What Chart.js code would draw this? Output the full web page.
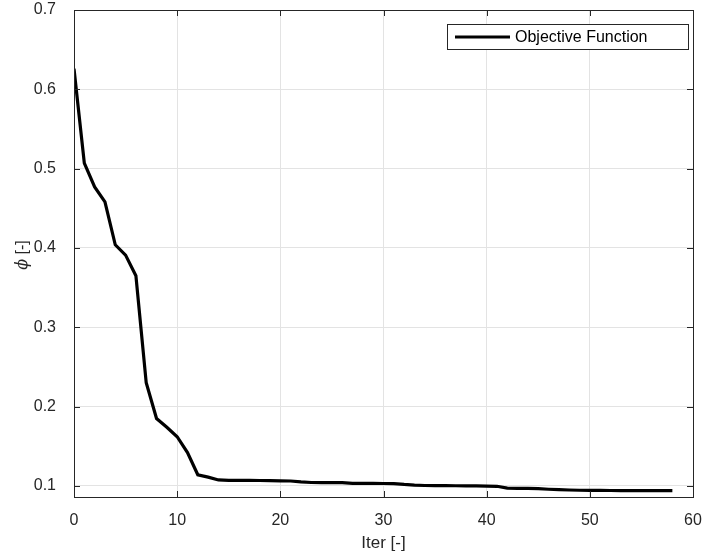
<!DOCTYPE html>
<html>
<head>
<meta charset="utf-8">
<script src="https://cdn.jsdelivr.net/npm/chart.js@4.4.0/dist/chart.umd.min.js"></script>
<style>
  html, body { margin: 0; padding: 0; background: #fff; }
  #wrap { width: 703px; height: 558px; }
</style>
</head>
<body>
<div id="wrap"><canvas id="objChart" width="703" height="558"></canvas></div>
<script>
// Iterations and objective values
const iterations = [
  0, 1, 2, 3, 4, 5, 6, 7, 8, 9, 10, 11, 12, 13, 14, 15, 16, 17, 18, 19,
  20, 21, 22, 23, 24, 25, 26, 27, 28, 29, 30, 31, 32, 33, 34, 35, 36, 37, 38, 39,
  40, 41, 42, 43, 44, 45, 46, 47, 48, 49, 50, 51, 52, 53, 54, 55, 56, 57, 58
];
const objective = [
  0.626, 0.507, 0.477, 0.458, 0.404, 0.391, 0.365, 0.230, 0.185, 0.174,
  0.162, 0.142, 0.114, 0.111, 0.1075, 0.107, 0.107, 0.107, 0.1068, 0.1066,
  0.1064, 0.1062, 0.105, 0.1043, 0.1042, 0.1041, 0.104, 0.1033, 0.1032, 0.1031,
  0.1030, 0.1029, 0.1018, 0.1010, 0.1005, 0.1004, 0.1003, 0.1002, 0.1001, 0.1000,
  0.0998, 0.0995, 0.0972, 0.0970, 0.0968, 0.0965, 0.0958, 0.0952, 0.0948, 0.0945,
  0.0944, 0.0943, 0.0942, 0.0941, 0.0941, 0.094, 0.094, 0.094, 0.094
];
const xTicks = [0, 10, 20, 30, 40, 50, 60];
const yTicks = [0.1, 0.2, 0.3, 0.4, 0.5, 0.6, 0.7];
const seriesLabel = "Objective Function";

const FONT = "'Liberation Sans', Arial, Helvetica, sans-serif";
const AXIS_COLOR = "#262626";

// box, inward ticks, y title and legend in MATLAB style
const matlabDecor = {
  id: "matlabDecor",
  afterDraw(chart) {
    const { ctx, chartArea: a, scales } = chart;
    ctx.save();
    ctx.strokeStyle = AXIS_COLOR;
    ctx.lineWidth = 1;
    ctx.strokeRect(Math.round(a.left) + 0.5, Math.round(a.top) + 0.5,
      Math.round(a.right - a.left), Math.round(a.bottom - a.top));
    ctx.beginPath();
    xTicks.forEach(v => {
      const x = Math.round(scales.x.getPixelForValue(v)) + 0.5;
      ctx.moveTo(x, a.bottom); ctx.lineTo(x, a.bottom - 6);
      ctx.moveTo(x, a.top); ctx.lineTo(x, a.top + 6);
    });
    yTicks.forEach(v => {
      const y = Math.round(scales.y.getPixelForValue(v)) + 0.5;
      ctx.moveTo(a.left, y); ctx.lineTo(a.left + 6, y);
      ctx.moveTo(a.right, y); ctx.lineTo(a.right - 6, y);
    });
    ctx.stroke();

    // y axis title: italic phi + " [-]"
    ctx.translate(23, 255);
    ctx.rotate(-Math.PI / 2);
    ctx.fillStyle = AXIS_COLOR;
    ctx.textBaseline = "middle";
    ctx.font = "italic 16px 'DejaVu Serif', serif";
    const phi = "\u03D5";
    const rest = " [-]";
    const wPhi = ctx.measureText(phi).width;
    ctx.font = "16px " + FONT;
    const wRest = ctx.measureText(rest).width;
    let x0 = -(wPhi + wRest) / 2;
    ctx.font = "italic 16px 'DejaVu Serif', serif";
    ctx.textAlign = "left";
    ctx.fillText(phi, x0, 0);
    ctx.font = "16px " + FONT;
    ctx.fillText(rest, x0 + wPhi, 0);
    ctx.setTransform(1, 0, 0, 1, 0, 0);

    // legend box
    const lx = 447, ly = 24, lw = 241, lh = 25;
    ctx.fillStyle = "#fff";
    ctx.fillRect(lx, ly, lw, lh);
    ctx.strokeStyle = AXIS_COLOR;
    ctx.strokeRect(lx + 0.5, ly + 0.5, lw, lh);
    ctx.strokeStyle = "#000";
    ctx.lineWidth = 3;
    ctx.beginPath();
    ctx.moveTo(455, ly + lh / 2 + 0.5);
    ctx.lineTo(510, ly + lh / 2 + 0.5);
    ctx.stroke();
    ctx.fillStyle = "#000";
    ctx.font = "16px " + FONT;
    ctx.textAlign = "left";
    ctx.textBaseline = "middle";
    ctx.fillText(seriesLabel, 515, ly + lh / 2 + 1);
    ctx.restore();
  }
};

const ctx = document.getElementById("objChart");
const objChart = new Chart(ctx, {
  type: "line",
  data: {
    datasets: [
      {
        label: seriesLabel,
        data: iterations.map((it, i) => ({ x: it, y: objective[i] })),
        borderColor: "#000",
        backgroundColor: "#000",
        borderWidth: 3.2,
        pointRadius: 0,
        tension: 0,
      },
    ],
  },
  options: {
    responsive: false,
    animation: false,
    layout: { padding: { top: 10, right: 10, left: 0, bottom: 0 } },
    plugins: {
      legend: { display: false },
      tooltip: { enabled: false },
    },
    scales: {
      x: {
        type: "linear",
        min: 0,
        max: 60,
        afterBuildTicks: (s) => { s.ticks = xTicks.map(v => ({ value: v })); },
        afterFit: (s) => { s.height = 61; s.paddingLeft = 0; s.paddingRight = 0; },
        grid: { color: "#e3e3e3", drawTicks: false },
        border: { display: false },
        ticks: { color: AXIS_COLOR, font: { family: FONT, size: 16 }, padding: 14, maxRotation: 0 },
        title: { display: true, text: "Iter [-]", color: AXIS_COLOR, font: { family: FONT, size: 17 }, padding: { top: 4 } },
      },
      y: {
        min: 0.086,
        max: 0.7,
        afterBuildTicks: (s) => { s.ticks = yTicks.map(v => ({ value: v })); },
        afterFit: (s) => { s.width = 74; s.paddingTop = 0; s.paddingBottom = 0; },
        grid: { color: "#e3e3e3", drawTicks: false },
        border: { display: false },
        ticks: {
          color: AXIS_COLOR,
          font: { family: FONT, size: 16 },
          padding: 18,
          callback: (v) => v.toFixed(1),
        },
      },
    },
  },
  plugins: [matlabDecor],
});
</script>
</body>
</html>
